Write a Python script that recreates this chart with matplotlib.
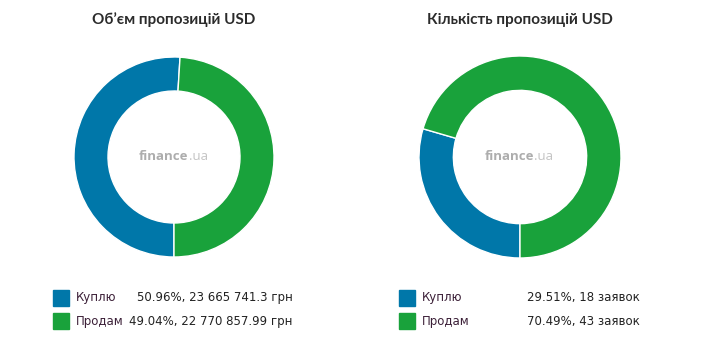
import matplotlib.pyplot as plt
from matplotlib.patches import Rectangle

W, H = 720, 345

titles = ["Обʼєм пропозицій USD", "Кількість пропозицій USD"]
labels = ["Куплю", "Продам"]
volume_share = [50.96, 49.04]
volume_uah = ["23 665 741.3", "22 770 857.99"]
count_share = [29.51, 70.49]
count_orders = [18, 43]

colors = ["#0077a9", "#19a23b"]
title_fonts = ["Lato", "DejaVu Sans"]


def fx(x):
    return x / W


def fy(y):
    return 1 - y / H


def draw_donut(fig, cx, cy, r, values, title):
    ax = fig.add_axes([fx(cx - r), fy(cy + r), 2 * r / W, 2 * r / H])
    ax.pie(
        values,
        colors=colors,
        startangle=-90,
        counterclock=False,
        radius=1.0,
        wedgeprops=dict(width=0.34, edgecolor="white", linewidth=1.0),
    )
    ax.set_xlim(-1.0, 1.0)
    ax.set_ylim(-1.0, 1.0)
    ax.set_aspect("equal")
    ax.axis("off")
    # watermark in the hole
    brand = ax.text(-0.35, 0.0, "finance", ha="left", va="center", color="#adadad",
                    fontsize=9.5, fontweight="bold", family="Open Sans")
    ax.annotate(".ua", xy=(1.0, 0.0), xycoords=brand, ha="left", va="bottom",
                color="#c4c4c4", fontsize=9.5, family="Open Sans")
    fig.text(fx(cx), fy(20), title, ha="center", va="center", fontsize=11,
             fontweight="bold", color="#2b2b2b", family=title_fonts)


def draw_legend(fig, sq_x, label_x, rows):
    for i, (label, value_x, text) in enumerate(rows):
        top = 290 + i * 23
        fig.add_artist(Rectangle((fx(sq_x), fy(top + 16)), 16 / W, 16 / H,
                                 transform=fig.transFigure, color=colors[i]))
        fig.text(fx(label_x), fy(top + 8), label, ha="left", va="center",
                 fontsize=8.5, color="#3c2038", family="DejaVu Sans")
        fig.text(fx(value_x), fy(top + 8), text, ha="left", va="center",
                 fontsize=8.5, color="#222222", family="DejaVu Sans")


fig = plt.figure(figsize=(W / 100, H / 100), dpi=100)
fig.patch.set_facecolor("white")

draw_donut(fig, 174, 157, 100, volume_share, titles[0])
draw_donut(fig, 520, 157, 101, count_share, titles[1])

draw_legend(fig, 53, 76, [
    (labels[0], 137, f"{volume_share[0]:.2f}%, {volume_uah[0]} грн"),
    (labels[1], 129, f"{volume_share[1]:.2f}%, {volume_uah[1]} грн"),
])
draw_legend(fig, 399, 422, [
    (labels[0], 527, f"{count_share[0]:.2f}%, {count_orders[0]} заявок"),
    (labels[1], 527, f"{count_share[1]:.2f}%, {count_orders[1]} заявок"),
])

fig.savefig("out.png", dpi=100)
